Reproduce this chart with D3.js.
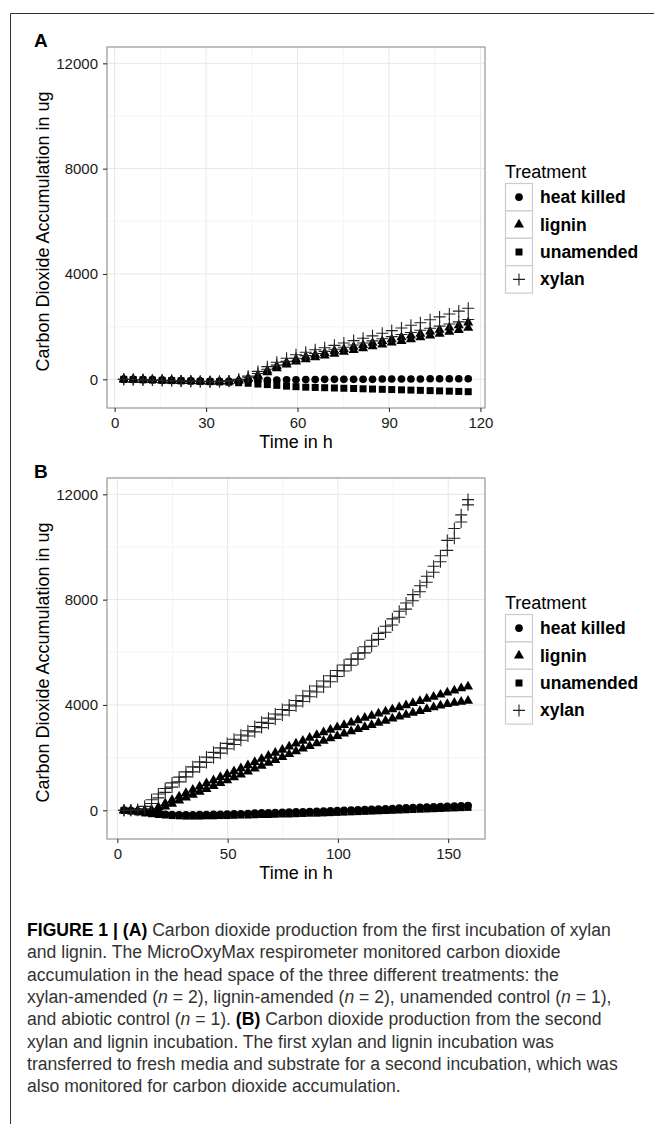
<!DOCTYPE html>
<html>
<head>
<meta charset="utf-8">
<script src="https://cdn.jsdelivr.net/npm/d3@7/dist/d3.min.js"></script>
<style>
  body { margin: 0; background: #fff; }
  svg { display: block; font-family: "Liberation Sans", Arial, sans-serif; }
</style>
</head>
<body>
<svg id="fig" width="654" height="1124"></svg>
<script>
// ---- data ----
var treatments = ["heat killed", "lignin", "unamended", "xylan"];
var yTicks = [0, 4000, 8000, 12000];
var yMinor = [2000, 6000, 10000];
var xTicksA = [0, 30, 60, 90, 120];
var xMinorA = [15, 45, 75, 105];
var xTicksB = [0, 50, 100, 150];
var xMinorB = [25, 75, 125];

// panel A, first incubation
var timesA = [3.0, 6.1, 9.3, 12.4, 15.6, 18.7, 21.8, 25.0, 28.1, 31.3,
  34.4, 37.5, 40.7, 43.8, 47.0, 50.1, 53.2, 56.4, 59.5, 62.7,
  65.8, 68.9, 72.1, 75.2, 78.4, 81.5, 84.6, 87.8, 90.9, 94.1,
  97.2, 100.3, 103.5, 106.6, 109.8, 112.9, 116.0];
var heatKilledA = [0, 0, -10, -20, -30, -40, -50, -60, -70, -80,
  -80, -80, -70, -60, -50, -40, -30, -20, -20, -10,
  -10, 0, 0, 0, 0, 0, 0, 10, 10, 10,
  10, 10, 20, 20, 20, 20, 20];
var unamendedA = [0, -10, -20, -30, -40, -50, -60, -70, -80, -90,
  -100, -110, -130, -150, -180, -200, -230, -260, -280, -300,
  -310, -320, -330, -340, -350, -360, -370, -380, -390, -400,
  -410, -420, -430, -440, -450, -460, -470];
var ligninA1 = [0, -10, -20, -30, -40, -50, -60, -70, -80, -90,
  -90, -80, -40, 50, 150, 330, 500, 640, 760, 850,
  930, 1000, 1080, 1150, 1230, 1300, 1380, 1450, 1520, 1590,
  1660, 1730, 1810, 1880, 1960, 2050, 2150];
var ligninA2 = [0, -10, -20, -30, -40, -50, -60, -70, -80, -90,
  -90, -80, -50, 20, 110, 260, 420, 560, 670, 760,
  830, 900, 970, 1040, 1110, 1180, 1250, 1320, 1390, 1450,
  1520, 1590, 1660, 1730, 1800, 1870, 1950];
var xylanA1 = [0, -10, -20, -30, -40, -50, -60, -70, -80, -90,
  -80, -60, 0, 120, 300, 480, 650, 800, 930, 1030,
  1120, 1200, 1290, 1380, 1470, 1560, 1650, 1750, 1850, 1950,
  2050, 2150, 2260, 2370, 2480, 2590, 2700];
var xylanA2 = [0, -10, -20, -30, -40, -50, -60, -70, -80, -90,
  -80, -70, -20, 80, 220, 380, 540, 680, 800, 900,
  980, 1060, 1140, 1220, 1300, 1380, 1460, 1540, 1620, 1700,
  1780, 1860, 1940, 2020, 2100, 2180, 2270];

// panel B, second incubation
var timesB = [3.0, 6.1, 9.2, 12.4, 15.5, 18.6, 21.7, 24.8, 28.0, 31.1,
  34.2, 37.3, 40.4, 43.6, 46.7, 49.8, 52.9, 56.0, 59.2, 62.3,
  65.4, 68.5, 71.6, 74.8, 77.9, 81.0, 84.1, 87.2, 90.4, 93.5,
  96.6, 99.7, 102.8, 106.0, 109.1, 112.2, 115.3, 118.4, 121.6, 124.7,
  127.8, 130.9, 134.0, 137.2, 140.3, 143.4, 146.5, 149.6, 152.8, 155.9,
  159.0];
var heatKilledB = [0, -20, -50, -80, -110, -130, -150, -160, -170, -170,
  -170, -160, -160, -150, -150, -140, -130, -130, -120, -110,
  -100, -100, -90, -80, -70, -60, -60, -50, -40, -30,
  -20, -10, 0, 10, 20, 30, 40, 50, 60, 70,
  80, 90, 100, 110, 120, 130, 140, 150, 160, 170,
  180];
var unamendedB = [0, -30, -60, -100, -130, -160, -180, -200, -210, -220,
  -220, -220, -210, -210, -200, -200, -190, -180, -180, -170,
  -160, -160, -150, -140, -140, -130, -120, -110, -110, -100,
  -90, -80, -70, -60, -50, -40, -30, -20, -10, 0,
  10, 20, 30, 40, 50, 60, 70, 80, 90, 100,
  110];
var ligninB1 = [0, 0, -10, -10, 20, 120, 260, 390, 520, 650,
  780, 900, 1020, 1140, 1260, 1370, 1480, 1590, 1710, 1830,
  1950, 2070, 2180, 2300, 2420, 2530, 2640, 2750, 2860, 2960,
  3060, 3150, 3240, 3330, 3420, 3510, 3590, 3670, 3750, 3830,
  3910, 3990, 4070, 4150, 4230, 4310, 4390, 4470, 4550, 4630,
  4700];
var ligninB2 = [0, 0, -10, -20, -10, 40, 140, 250, 370, 480,
  590, 700, 810, 920, 1030, 1140, 1250, 1360, 1470, 1580,
  1690, 1800, 1910, 2020, 2130, 2240, 2340, 2440, 2540, 2640,
  2730, 2820, 2910, 3000, 3080, 3160, 3240, 3320, 3400, 3480,
  3560, 3630, 3700, 3770, 3840, 3910, 3980, 4030, 4080, 4120,
  4160];
var xylanB1 = [0, 0, 30, 150, 400, 620, 830, 1040, 1260, 1460,
  1650, 1840, 2020, 2200, 2370, 2540, 2700, 2860, 3020, 3180,
  3340, 3500, 3660, 3830, 4000, 4170, 4350, 4530, 4720, 4910,
  5110, 5310, 5520, 5740, 5970, 6210, 6460, 6720, 6990, 7270,
  7560, 7870, 8190, 8530, 8890, 9270, 9670, 10250, 10700, 11220,
  11800];
var xylanB2 = [0, 0, 0, 60, 260, 470, 680, 880, 1080, 1270,
  1460, 1640, 1820, 2000, 2170, 2340, 2500, 2660, 2820, 2980,
  3140, 3300, 3460, 3620, 3790, 3960, 4130, 4310, 4490, 4680,
  4880, 5080, 5290, 5510, 5740, 5980, 6230, 6490, 6760, 7040,
  7330, 7640, 7960, 8300, 8660, 9040, 9440, 9870, 10330, 10950,
  11600];

var captionLines = [
  [["FIGURE 1 | (A)", "b"], [" Carbon dioxide production from the first incubation of xylan", ""]],
  [["and lignin. The MicroOxyMax respirometer monitored carbon dioxide", ""]],
  [["accumulation in the head space of the three different treatments: the", ""]],
  [["xylan-amended (", ""], ["n", "i"], [" = 2), lignin-amended (", ""], ["n", "i"], [" = 2), unamended control (", ""], ["n", "i"], [" = 1),", ""]],
  [["and abiotic control (", ""], ["n", "i"], [" = 1). ", ""], ["(B)", "b"], [" Carbon dioxide production from the second", ""]],
  [["xylan and lignin incubation. The first xylan and lignin incubation was", ""]],
  [["transferred to fresh media and substrate for a second incubation, which was", ""]],
  [["also monitored for carbon dioxide accumulation.", ""]]
];

// ---- drawing ----
var svg = d3.select("#fig");
var left = 107, right = 485;

svg.append("path")
  .attr("d", "M10.5,1124V13.5H654")
  .attr("fill", "none")
  .attr("stroke", "#333")
  .attr("stroke-width", 1);

var symbols = {
  "heat killed": d3.symbol(d3.symbolCircle, 46)(),
  "lignin": d3.symbol(d3.symbolTriangle, 44)(),
  "unamended": d3.symbol(d3.symbolSquare, 49)(),
  "xylan": "M-6,0H6M0,-6V6"
};

function styleSymbol(sel, name) {
  if (name === "xylan") {
    sel.attr("fill", "none").attr("stroke", "#222").attr("stroke-width", 1.1);
  } else {
    sel.attr("fill", "#000").attr("stroke", "none");
  }
}

function drawPanel(p) {
  var x = d3.scaleLinear().domain(p.xDomain).range([left, right]);
  var y = d3.scaleLinear().domain([-1090, 12620]).range([p.bottom, p.top]);
  var g = svg.append("g");

  // grid
  g.selectAll(".vmin").data(p.xMinor).enter().append("line")
    .attr("x1", function(d) { return x(d); }).attr("x2", function(d) { return x(d); })
    .attr("y1", p.top).attr("y2", p.bottom)
    .attr("stroke", "#f2f2f2").attr("stroke-width", 0.8);
  g.selectAll(".hmin").data(yMinor).enter().append("line")
    .attr("y1", function(d) { return y(d); }).attr("y2", function(d) { return y(d); })
    .attr("x1", left).attr("x2", right)
    .attr("stroke", "#f2f2f2").attr("stroke-width", 0.8);
  g.selectAll(".vmaj").data(p.xTicks).enter().append("line")
    .attr("x1", function(d) { return x(d); }).attr("x2", function(d) { return x(d); })
    .attr("y1", p.top).attr("y2", p.bottom)
    .attr("stroke", "#e6e6e6").attr("stroke-width", 1);
  g.selectAll(".hmaj").data(yTicks).enter().append("line")
    .attr("y1", function(d) { return y(d); }).attr("y2", function(d) { return y(d); })
    .attr("x1", left).attr("x2", right)
    .attr("stroke", "#e6e6e6").attr("stroke-width", 1);

  // points
  p.series.forEach(function(s) {
    var pts = g.append("g").selectAll("path")
      .data(s.values.map(function(v, i) { return [s.times[i], v]; }))
      .enter().append("path")
      .attr("transform", function(d) { return "translate(" + x(d[0]) + "," + y(d[1]) + ")"; })
      .attr("d", symbols[s.name]);
    styleSymbol(pts, s.name);
  });

  // border
  g.append("rect")
    .attr("x", left).attr("y", p.top)
    .attr("width", right - left).attr("height", p.bottom - p.top)
    .attr("fill", "none").attr("stroke", "#8c8c8c").attr("stroke-width", 1.1);

  // axes
  var xAxis = g.append("g")
    .attr("transform", "translate(0," + p.bottom + ")")
    .call(d3.axisBottom(x).tickValues(p.xTicks).tickSize(4).tickPadding(5).tickFormat(d3.format("d")));
  var yAxis = g.append("g")
    .attr("transform", "translate(" + left + ",0)")
    .call(d3.axisLeft(y).tickValues(yTicks).tickSize(4).tickPadding(5).tickFormat(d3.format("d")));
  [xAxis, yAxis].forEach(function(a) {
    a.select(".domain").remove();
    a.selectAll(".tick line").attr("stroke", "#333").attr("stroke-width", 1.1);
    a.selectAll(".tick text").attr("font-size", 15).attr("fill", "#1a1a1a")
      .attr("font-family", "'Liberation Sans', Arial, sans-serif");
  });

  // titles
  g.append("text")
    .attr("x", (left + right) / 2).attr("y", p.bottom + 40)
    .attr("text-anchor", "middle").attr("font-size", 18).attr("fill", "#000")
    .text("Time in h");
  g.append("text")
    .attr("transform", "translate(49," + ((p.top + p.bottom) / 2 + 4) + ") rotate(-90)")
    .attr("text-anchor", "middle").attr("font-size", 18).attr("fill", "#000")
    .text("Carbon Dioxide Accumulation in ug");
  g.append("text")
    .attr("x", 34).attr("y", p.top)
    .attr("font-size", 19).attr("font-weight", "bold").attr("fill", "#000")
    .text(p.letter);

  // legend
  var key = 27.4;
  var lg = g.append("g").attr("transform", "translate(505," + p.legendTop + ")");
  lg.append("text").attr("x", 0).attr("y", -5)
    .attr("font-size", 18).attr("fill", "#000").text("Treatment");
  treatments.forEach(function(t, i) {
    lg.append("rect")
      .attr("x", 0.5).attr("y", i * key + 0.5)
      .attr("width", 27).attr("height", key)
      .attr("fill", "#fff").attr("stroke", "#cccccc").attr("stroke-width", 1.2);
    var sym = lg.append("path")
      .attr("transform", "translate(14," + (i * key + key / 2 + 0.5) + ")")
      .attr("d", symbols[t]);
    styleSymbol(sym, t);
    lg.append("text")
      .attr("x", 35).attr("y", i * key + key / 2 + 0.5)
      .attr("dominant-baseline", "central")
      .attr("font-size", 17.5).attr("font-weight", "bold").attr("fill", "#000")
      .text(t);
  });
}

drawPanel({
  letter: "A", top: 47, bottom: 408, xDomain: [-2.5, 121.5],
  xTicks: xTicksA, xMinor: xMinorA, legendTop: 183,
  series: [
    { name: "heat killed", times: timesA, values: heatKilledA },
    { name: "unamended", times: timesA, values: unamendedA },
    { name: "lignin", times: timesA, values: ligninA1 },
    { name: "lignin", times: timesA, values: ligninA2 },
    { name: "xylan", times: timesA, values: xylanA1 },
    { name: "xylan", times: timesA, values: xylanA2 }
  ]
});

drawPanel({
  letter: "B", top: 478, bottom: 839, xDomain: [-4.7, 166.7],
  xTicks: xTicksB, xMinor: xMinorB, legendTop: 614,
  series: [
    { name: "heat killed", times: timesB, values: heatKilledB },
    { name: "unamended", times: timesB, values: unamendedB },
    { name: "lignin", times: timesB, values: ligninB1 },
    { name: "lignin", times: timesB, values: ligninB2 },
    { name: "xylan", times: timesB, values: xylanB1 },
    { name: "xylan", times: timesB, values: xylanB2 }
  ]
});

// caption
var cap = svg.append("text")
  .attr("font-family", "'Liberation Sans', Arial, sans-serif")
  .attr("font-size", 17.6).attr("fill", "#333");
captionLines.forEach(function(line, i) {
  line.forEach(function(seg, j) {
    var ts = cap.append("tspan").text(seg[0]);
    if (j === 0) ts.attr("x", 27).attr("y", 936 + i * 22.3);
    if (seg[1] === "b") ts.attr("font-weight", "bold").attr("fill", "#000");
    if (seg[1] === "i") ts.attr("font-style", "italic");
  });
});
</script>
</body>
</html>
